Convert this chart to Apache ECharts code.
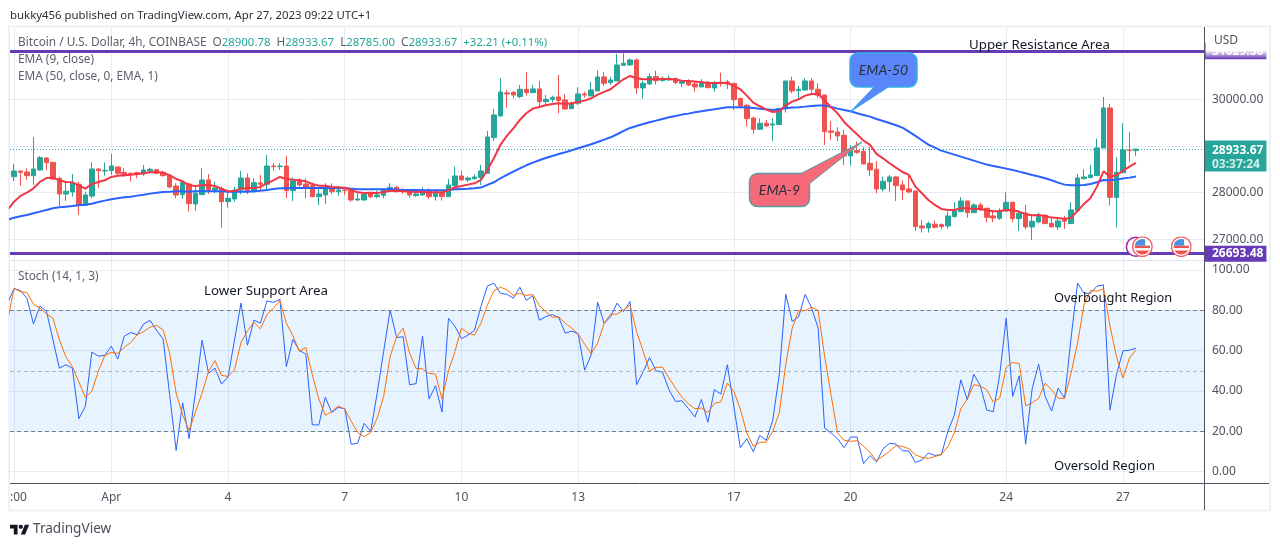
<!DOCTYPE html>
<html>
<head>
<meta charset="utf-8">
<title>BTCUSD 4h</title>
<style>
html, body { margin: 0; padding: 0; background: #fff; }
#main { width: 1280px; height: 546px; }
</style>
<script src="https://cdn.jsdelivr.net/npm/echarts@6/dist/echarts.min.js"></script>
</head>
<body>
<div id="main"></div>
<script>
// x axis is the bar number, 0 = first visible 4h candle
var tickBars = [0, 15, 33, 51, 69, 87, 111, 129, 153, 171];
var tickLabels = [':00', 'Apr', '4', '7', '10', '13', '17', '20', '24', '27'];

var open = [28343,28464,28443,28364,28486,28743,28650,28307,27971,28014,28179,27729,27928,28507,28464,28471,28550,28436,28414,28429,28400,28464,28493,28436,28379,28143,27957,28186,27757,27957,28272,28057,28093,27807,27864,28057,28314,28021,28207,28179,28571,28557,28571,28043,28257,28186,28150,27914,27950,28114,28021,28057,28043,27843,27843,27971,27914,27943,28043,28114,28057,28043,27936,27950,28043,
27915,28001,27915,28151,28358,28272,28301,28322,28415,29179,29643,30136,30150,30058,30215,30143,30222,29950,30000,30050,29986,29800,29915,30115,30072,30179,30479,30358,30393,30729,30736,30843,30243,30329,30486,30400,30415,30443,30343,30393,30329,30265,30365,30243,30365,30372,30343,30015,29872,29600,29358,29486,29450,29458,29800,30393,30186,30200,30393,30215,30093,29322,29300,29229,28786,28901,28886,28629,28501,28079,28236,28336,28165,28079,28036,27286,27244,27322,27315,27286,27486,27594,27822,27572,27737,27665,27501,27451,27608,27794,27444,27565,27265,27372,27515,27344,27265,27415,27337,27615,28301,28322,28365,28958,29815,27894,28429,28915,28900.78];
var close = [28464,28436,28364,28507,28750,28643,28293,27971,28029,28214,27736,27950,28507,28471,28478,28571,28414,28364,28400,28386,28486,28500,28414,28364,28121,27950,28214,27764,27986,28272,28057,28100,27807,27879,28057,28314,28043,28214,28179,28571,28557,28571,28043,28257,28164,28114,27914,27971,28107,28021,28057,28043,27843,27864,27971,27914,27950,28057,28114,28021,28029,27950,27971,28057,27914,
27986,27915,28165,28358,28272,28315,28336,28465,29193,29665,30158,30115,30093,30215,30143,30222,29950,30000,30043,29972,29793,29915,30115,30093,30200,30479,30343,30415,30736,30772,30843,30243,30343,30486,30400,30450,30450,30358,30379,30308,30265,30343,30250,30343,30343,30329,29993,29858,29586,29358,29486,29429,29472,29800,30393,30179,30215,30393,30215,30086,29308,29293,29215,28786,28901,28865,28615,28486,28079,28244,28336,28151,28058,28015,27272,27244,27337,27258,27272,27501,27608,27822,27572,27737,27629,27472,27458,27608,27794,27444,27558,27265,27386,27487,27337,27265,27394,27387,27629,28315,28336,28379,28958,29815,27901,28436,28915,28900.78,28933.67];
var low = [28250,28150,28272,28164,28471,28486,28272,27714,27821,27914,27521,27714,27879,28093,28364,28379,28357,28343,28236,28307,28364,28414,28400,28343,28093,27879,27864,27593,27614,27950,27971,27986,27250,27679,27807,27964,27971,28000,28057,28057,28471,28486,27879,27821,28129,27879,27900,27736,27757,27971,27929,27950,27807,27821,27829,27879,27879,27879,28021,28000,27971,27893,27914,27936,27864,
27829,27829,27915,28129,28258,28229,28272,28165,28415,29115,29629,29822,30022,30022,30079,30129,29843,29879,29936,29700,29772,29793,29879,30036,30072,30179,30286,30308,30393,30729,30722,30115,30015,30308,30315,30379,30400,30322,30258,30286,30165,30258,30236,30165,30272,30222,29772,29851,29415,29258,29343,29415,29108,29450,29715,30129,30022,30186,30129,30022,29022,29129,29108,28593,28579,28829,28608,28358,27986,28022,28022,27822,27843,27986,27179,27144,27144,27236,27215,27236,27472,27586,27465,27558,27608,27365,27365,27415,27594,27365,27179,27215,26987,27344,27329,27258,27201,27222,27329,27615,28272,28308,28358,28958,27722,27251,28415,28665,28785];
var high = [28614,28464,28522,29193,28786,28757,28650,28343,28236,28400,28236,28021,28650,28522,28643,28828,28557,28522,28429,28450,28593,28536,28500,28471,28400,28200,28236,28214,28164,28522,28400,28236,28129,28021,28129,28464,28414,28307,28379,28807,28643,28629,28786,28329,28307,28307,28214,28093,28200,28200,28143,28114,28093,28021,28000,28021,28043,28093,28200,28143,28093,28057,28043,28114,28093,
28058,28058,28294,28558,28465,28344,28393,28593,29322,29793,30450,30200,30179,30308,30586,30308,30393,30093,30079,30522,30108,29950,30258,30165,30379,30622,30579,30486,30972,30986,30879,30879,30400,30557,30615,30486,30508,30472,30400,30429,30379,30429,30393,30393,30572,30415,30343,30036,29900,29629,29593,29558,29593,29808,30393,30486,30286,30450,30450,30343,30093,29536,29400,29343,29022,29093,28972,28972,28679,28344,28379,28358,28258,28379,28036,27415,27379,27401,27344,27594,27794,27901,27822,27772,27786,27679,27629,27665,28008,27801,27594,27737,27522,27572,27536,27465,27472,27501,27794,28401,28501,28593,29158,30050,29900,28758,29486,29300,28933.67];

// the lines have one more value at the front: the bar just left of the pane
var ema9 = [27629,27807,27929,28000,28093,28229,28314,28321,28264,28229,28221,28157,28086,28186,28229,28264,28336,28364,28371,28386,28400,28414,28436,28443,28429,28371,28293,28243,28157,28143,28157,28164,28143,28079,28029,28036,28086,28100,28100,28121,28200,28264,28336,28293,28279,28264,28243,28186,28150,28150,28121,28114,28107,28057,28007,27993,28000,27993,28014,28036,28043,28029,28021,28014,28021,28000,
28015,28001,28051,28115,28143,28172,28201,28272,28486,28736,29022,29215,29379,29558,29700,29800,29836,29872,29900,29915,29900,29915,29943,29972,30022,30100,30158,30215,30329,30429,30500,30450,30429,30429,30429,30436,30436,30422,30400,30393,30379,30365,30350,30350,30350,30350,30286,30215,30079,29929,29851,29779,29729,29743,29872,29950,30000,30079,30115,30115,29972,29829,29700,29515,29379,29250,
29115,29022,28829,28736,28629,28536,28443,28379,28129,27986,27843,27737,27651,27629,27629,27665,27665,27651,27651,27622,27601,27608,27629,27622,27594,27536,27515,27522,27501,27465,27458,27437,27465,27608,27758,27886,28129,28458,28343,28372,28465,28558,28636];
var ema50 = [27415,27464,27493,27521,27557,27593,27629,27664,27686,27700,27714,27729,27743,27764,27800,27829,27857,27879,27900,27914,27936,27957,27979,28000,28014,28021,28029,28029,28021,28029,28029,28029,28029,28029,28021,28021,28021,28021,28029,28043,28057,28079,28093,28093,28100,28100,28100,28100,28100,28100,28100,28100,28100,28086,28071,28071,28071,28071,28071,28071,28064,28057,28057,28057,28050,28050,
28051,28051,28058,28072,28079,28086,28094,28108,28165,28222,28308,28379,28451,28522,28586,28643,28693,28743,28786,28829,28865,28908,28951,28993,29036,29086,29136,29186,29251,29322,29386,29429,29472,29508,29543,29579,29615,29643,29672,29693,29722,29743,29765,29786,29808,29829,29829,29829,29822,29815,29800,29786,29772,29786,29808,29822,29829,29843,29858,29865,29865,29836,29800,29772,29743,29700,
29665,29629,29579,29536,29493,29443,29393,29308,29215,29122,29029,28965,28901,28858,28815,28772,28729,28686,28643,28601,28572,28543,28515,28486,28451,28415,28379,28344,28308,28265,28215,28172,28158,28158,28165,28186,28222,28272,28265,28279,28301,28322,28344];
var stochK = [83.6,90.8,89.8,86.0,73.3,82.1,79.6,65.4,51.3,53.0,51.3,26.2,32.3,59.3,57.3,57.6,62.2,55.8,67.2,69.0,67.9,73.3,75.0,70.0,65.7,38.1,10.5,34.1,16.3,39.8,65.2,48.8,51.3,43.4,46.9,65.2,83.6,62.7,75.1,73.6,84.7,83.9,85.5,52.1,65.5,60.1,58.3,23.2,23.1,36.9,29.3,31.8,31.2,13.5,14.1,23.9,19.9,38.9,59.6,80.1,66.5,66.9,43.1,43.6,67.2,36.0,
42.6,29.5,76.1,72.1,65.9,67.7,70.0,81.9,92.1,93.5,88.5,88.0,86.0,91.5,85.0,87.2,75.1,76.9,77.9,76.4,68.7,69.7,68.3,50.3,57.9,84.0,73.5,76.9,83.6,79.4,84.4,43.1,49.3,56.6,50.0,49.3,40.6,34.8,35.1,31.2,27.0,35.8,24.5,40.7,38.4,53.0,32.3,11.8,16.3,9.8,17.9,15.5,25.4,48.0,88.0,74.5,76.8,88.0,81.1,71.2,21.6,19.1,16.3,11.8,17.1,17.1,
3.9,7.9,4.7,11.3,14.0,13.6,10.3,10.2,4.5,5.7,9.2,8.0,8.3,19.9,27.9,45.5,35.6,48.3,42.7,30.5,29.7,48.0,76.1,37.3,47.5,13.6,41.1,53.3,37.3,30.0,41.4,36.4,66.2,93.5,88.5,88.5,92.0,92.6,30.5,48.0,59.9,60.2,61.2];
var stochD = [74.5,90.8,89.3,88.8,83.1,81.1,78.3,76.1,65.5,56.9,52.1,44.4,36.8,39.8,49.7,57.6,59.1,58.6,61.6,64.0,67.9,69.5,71.7,72.5,70.3,58.8,38.9,28.2,20.4,29.8,38.9,49.7,55.0,47.7,47.2,50.5,64.0,69.8,74.1,70.8,77.8,81.1,84.9,73.6,67.5,59.6,61.6,48.0,36.1,27.9,29.8,32.5,31.0,24.9,19.4,17.3,19.4,26.5,37.3,57.1,66.7,71.2,58.8,51.2,51.0,48.7,
48.3,36.0,50.0,59.6,71.2,68.7,67.7,73.6,82.7,89.7,91.5,90.2,87.4,88.5,87.4,87.9,82.4,79.4,76.6,76.8,73.6,71.2,68.3,63.2,58.4,63.7,73.6,78.1,78.1,80.2,82.6,69.5,59.9,49.8,51.7,51.8,46.4,41.4,36.9,33.6,31.2,31.5,29.3,33.8,34.6,43.9,39.8,31.0,19.1,12.5,14.5,14.6,19.9,29.0,53.0,71.2,79.8,79.8,81.6,79.9,57.1,37.8,19.1,15.5,15.0,15.3,
12.5,9.5,5.4,7.7,10.0,12.8,12.5,11.3,8.3,7.0,6.5,7.4,8.5,12.3,19.1,31.2,36.0,43.1,42.4,40.6,34.5,36.4,51.7,54.1,53.6,32.6,34.1,36.3,43.9,40.6,36.4,36.3,48.8,63.7,82.7,90.0,89.5,90.7,72.3,57.1,46.4,56.3,60.4];

var resistance = 31029.5;
var support = 26693.48;
var lastPrice = 28933.67;
var priceGrid = [27000, 28000, 29000, 30000, 31000];
var priceLabels = [27000, 28000, 30000];
var stochTicks = [0, 20, 40, 60, 80, 100];
var earningsBars = [174, 180];
var earningsRingBars = [173];
var eventPrice = 26842;

var FONT = '"Noto Sans", sans-serif';
var SMALL_FONT = '11.4px "Noto Sans", sans-serif';
var LEGEND_FONT = '11.8px "Noto Sans", sans-serif';
var GRID_COLOR = '#e4edf3';
var AXIS_COLOR = '#50535e';
var TEXT_COLOR = '#50535e';
var UP = '#26a69a';
var DOWN = '#ef5350';
var PURPLE = '#673ab7';

var candles = open.map(function (o, i) { return [i, o, close[i], low[i], high[i]]; });
function linePoints(values) {
    return values.map(function (v, i) { return [i - 1, v]; });
}

var flagSvg = '<svg xmlns="http://www.w3.org/2000/svg" width="60" height="60" viewBox="0 0 60 60">' +
    '<clipPath id="c"><circle cx="30" cy="30" r="22"/></clipPath>' +
    '<circle cx="30" cy="30" r="28" fill="#fff" stroke="#f0616a" stroke-width="4"/>' +
    '<g clip-path="url(#c)"><rect width="60" height="60" fill="#fff"/>' +
    '<rect y="27" width="60" height="7" fill="#ef5350"/><rect y="41" width="60" height="14" fill="#ef5350"/>' +
    '<rect x="8" y="8" width="30" height="19" fill="#4d90e0"/></g></svg>';
var flagSymbol = 'image://data:image/svg+xml;charset=utf-8,' + encodeURIComponent(flagSvg);

var xAxisBase = {
    type: 'value',
    min: -0.617,
    max: 183.5,
    axisTick: { show: false, customValues: tickBars },
    splitLine: { show: true, lineStyle: { color: GRID_COLOR, width: 1 } }
};

function callout(box, tail, fill, stroke, text) {
    return [
        { type: 'rect', z: 20, shape: { x: box[0], y: box[1], width: box[2], height: box[3], r: 8 },
          style: { fill: fill, stroke: stroke, lineWidth: 1.5 } },
        { type: 'polygon', z: 21, shape: { points: tail }, style: { fill: fill } },
        { type: 'polyline', z: 22, shape: { points: tail }, style: { stroke: stroke, lineWidth: 1, fill: null } },
        { type: 'text', z: 23, x: box[0] + box[2] / 2, y: box[1] + box[3] / 2,
          style: { text: text, fill: '#2a2e39', font: 'italic 14px Lato, sans-serif', align: 'center', verticalAlign: 'middle' } }
    ];
}

function note(text, x, y, size) {
    return { type: 'text', z: 15, x: x, y: y,
        style: { text: text, fill: '#131722', font: size + 'px ' + FONT, verticalAlign: 'middle' } };
}

var graphics = [
    { type: 'rect', z: 0, silent: true, shape: { x: 9, y: 26.5, width: 1261, height: 484 },
      style: { fill: null, stroke: '#eef1f6', lineWidth: 2 } },
    { type: 'line', z: 9, shape: { x1: 1204.5, y1: 27, x2: 1204.5, y2: 510 }, style: { stroke: AXIS_COLOR, lineWidth: 1 } },
    { type: 'line', z: 9, shape: { x1: 10, y1: 483.5, x2: 1269, y2: 483.5 }, style: { stroke: AXIS_COLOR, lineWidth: 1 } },
    { type: 'line', z: 1, shape: { x1: 10, y1: 260.5, x2: 1269, y2: 260.5 }, style: { stroke: '#e0e3eb', lineWidth: 1 } },
    { type: 'text', z: 15, x: 10, y: 16,
      style: { text: 'bukky456 published on TradingView.com, Apr 27, 2023 09:22 UTC+1', fill: '#2a2e39', font: SMALL_FONT, verticalAlign: 'middle' } },
    { type: 'text', z: 15, x: 18, y: 43,
      style: {
          text: '{l|Bitcoin / U.S. Dollar, 4h, COINBASE  O}{v|28900.78}{l|  H}{v|28933.67}{l|  L}{v|28785.00}{l|  C}{v|28933.67}{v|  +32.21 (+0.11%)}',
          verticalAlign: 'middle',
          rich: {
              l: { fill: '#5d606b', font: LEGEND_FONT },
              v: { fill: UP, font: SMALL_FONT }
          }
      } },
    { type: 'text', z: 15, x: 18, y: 60, style: { text: 'EMA (9, close)', fill: '#5d606b', font: LEGEND_FONT, verticalAlign: 'middle' } },
    { type: 'text', z: 15, x: 18, y: 77, style: { text: 'EMA (50, close, 0, EMA, 1)', fill: '#5d606b', font: LEGEND_FONT, verticalAlign: 'middle' } },
    { type: 'text', z: 15, x: 18, y: 277, style: { text: 'Stoch (14, 1, 3)', fill: '#5d606b', font: LEGEND_FONT, verticalAlign: 'middle' } },
    note('Upper Resistance Area', 969, 45, 13.3),
    note('Lower Support Area', 204, 291, 13.3),
    note('Overbought Region', 1054, 298, 12.8),
    note('Oversold Region', 1054, 466, 13),
    // white fade that hides the upper half of the resistance price tag
    { type: 'rect', z: 30, shape: { x: 1205.5, y: 28, width: 62, height: 31 },
      style: { fill: { type: 'linear', x: 0, y: 0, x2: 0, y2: 1, colorStops: [
          { offset: 0, color: '#fff' }, { offset: 0.72, color: '#fff' }, { offset: 1, color: 'rgba(255,255,255,0)' } ] } } },
    { type: 'text', z: 31, x: 1214, y: 41, style: { text: 'USD', fill: TEXT_COLOR, font: '12px ' + FONT, verticalAlign: 'middle' } },
    // TradingView mark
    { type: 'group', z: 15, x: 10, y: 522.5, scaleX: 0.54, scaleY: 0.54, children: [
        { type: 'polygon', shape: { points: [[0, 4], [14, 4], [14, 22], [7, 22], [7, 11], [0, 11]] }, style: { fill: '#131722' } },
        { type: 'circle', shape: { cx: 20, cy: 8, r: 4 }, style: { fill: '#131722' } },
        { type: 'polygon', shape: { points: [[27.5, 4], [35.5, 4], [28, 22], [20, 22]] }, style: { fill: '#131722' } }
    ] },
    { type: 'text', z: 15, x: 33, y: 529, style: { text: 'TradingView', fill: '#4a4e59', font: '13.6px ' + FONT, verticalAlign: 'middle' } }
];
graphics = graphics
    .concat(callout([850, 53, 67, 34], [[875, 86], [850, 112], [890, 86]], '#5b86fb', '#35b0e8', 'EMA-50'))
    .concat(callout([749.5, 173.5, 60, 33], [[800, 174], [862, 142], [809, 184]], '#f76a7a', '#5b9aa0', 'EMA-9'));

var chartDom = document.getElementById('main');
var myChart = echarts.init(chartDom);

var option = {
    animation: false,
    backgroundColor: '#fff',
    textStyle: { fontFamily: FONT },
    grid: [
        { left: 10, width: 1194, top: 27, height: 233 },
        { left: 10, width: 1194, top: 261, height: 222 }
    ],
    xAxis: [
        Object.assign({}, xAxisBase, {
            gridIndex: 0,
            axisLine: { show: false },
            axisLabel: { show: false }
        }),
        Object.assign({}, xAxisBase, {
            gridIndex: 1,
            position: 'bottom',
            axisLine: { show: false },
            axisLabel: {
                customValues: tickBars,
                color: TEXT_COLOR,
                fontSize: 12,
                margin: 9,
                formatter: function (v) {
                    var label = tickLabels[tickBars.indexOf(v)];
                    return v === 0 ? '{lead|' + label + '}' : label;
                },
                rich: { lead: { padding: [0, 0, 0, 9], color: TEXT_COLOR, fontSize: 12 } }
            }
        })
    ],
    yAxis: [
        {
            type: 'value',
            gridIndex: 0,
            position: 'right',
            min: 26557,
            max: 31549,
            axisLine: { show: false },
            axisTick: { show: false, customValues: priceGrid },
            splitLine: { show: true, lineStyle: { color: GRID_COLOR } },
            axisLabel: {
                customValues: priceLabels,
                color: TEXT_COLOR,
                fontSize: 12,
                margin: 8,
                padding: [2, 0, 0, 0],
                formatter: function (v) { return v.toFixed(2); }
            }
        },
        {
            type: 'value',
            gridIndex: 1,
            position: 'right',
            min: -5.7,
            max: 104.5,
            axisLine: { show: false },
            axisTick: { show: false, customValues: stochTicks },
            splitLine: { show: true, lineStyle: { color: GRID_COLOR } },
            axisLabel: {
                customValues: stochTicks,
                color: TEXT_COLOR,
                fontSize: 12,
                margin: 8,
                padding: [2, 0, 0, 0],
                formatter: function (v) { return v.toFixed(2); }
            }
        }
    ],
    series: [
        {
            name: 'BTCUSD',
            type: 'candlestick',
            xAxisIndex: 0,
            yAxisIndex: 0,
            barWidth: 5,
            z: 3,
            itemStyle: { color: UP, color0: DOWN, borderColor: UP, borderColor0: DOWN, borderWidth: 1 },
            data: candles,
            markLine: {
                silent: true,
                symbol: 'none',
                animation: false,
                data: [
                    {
                        yAxis: lastPrice,
                        lineStyle: { color: UP, type: [1, 2], width: 1 },
                        label: {
                            position: 'end',
                            distance: 0,
                            offset: [0, 7],
                            formatter: '{a|28933.67}\n{b|03:37:24}',
                            backgroundColor: UP,
                            padding: [3, 3, 0, 8],
                            rich: {
                                a: { color: '#fff', fontSize: 12, fontWeight: 'bold', lineHeight: 14 },
                                b: { color: '#d4eeeb', fontSize: 12, fontWeight: 'bold', lineHeight: 14 }
                            }
                        }
                    },
                    {
                        yAxis: resistance,
                        lineStyle: { color: PURPLE, type: 'solid', width: 3 },
                        label: {
                            position: 'end',
                            distance: 0,
                            formatter: '31029.50',
                            color: '#fff',
                            fontSize: 12,
                            fontWeight: 'bold',
                            backgroundColor: PURPLE,
                            padding: [2, 3, 2, 8]
                        }
                    },
                    {
                        yAxis: support,
                        lineStyle: { color: PURPLE, type: 'solid', width: 3 },
                        label: {
                            position: 'end',
                            distance: 0,
                            formatter: '26693.48',
                            color: '#fff',
                            fontSize: 12,
                            fontWeight: 'bold',
                            backgroundColor: PURPLE,
                            padding: [2, 3, 2, 8]
                        }
                    }
                ]
            }
        },
        {
            name: 'EMA 50',
            type: 'line',
            xAxisIndex: 0,
            yAxisIndex: 0,
            symbol: 'none',
            z: 4,
            lineStyle: { color: '#2962ff', width: 2 },
            data: linePoints(ema50)
        },
        {
            name: 'EMA 9',
            type: 'line',
            xAxisIndex: 0,
            yAxisIndex: 0,
            symbol: 'none',
            z: 5,
            lineStyle: { color: '#f23645', width: 2 },
            data: linePoints(ema9)
        },
        {
            name: 'Event ring',
            type: 'scatter',
            xAxisIndex: 0,
            yAxisIndex: 0,
            symbol: 'circle',
            symbolSize: 19,
            z: 6,
            itemStyle: { color: '#fff', borderColor: '#9c27b0', borderWidth: 1.5, opacity: 1 },
            data: earningsRingBars.map(function (b) { return [b, eventPrice]; })
        },
        {
            name: 'Event',
            type: 'scatter',
            xAxisIndex: 0,
            yAxisIndex: 0,
            symbol: flagSymbol,
            symbolSize: 21,
            z: 7,
            itemStyle: { opacity: 1 },
            data: earningsBars.map(function (b) { return [b, eventPrice]; })
        },
        {
            name: '%K',
            type: 'line',
            xAxisIndex: 1,
            yAxisIndex: 1,
            symbol: 'none',
            z: 4,
            lineStyle: { color: '#2962ff', width: 1 },
            data: linePoints(stochK),
            markArea: {
                silent: true,
                itemStyle: { color: 'rgba(33,150,243,0.11)' },
                data: [[{ yAxis: 80 }, { yAxis: 20 }]]
            },
            markLine: {
                silent: true,
                symbol: 'none',
                animation: false,
                label: { show: false },
                data: [
                    { yAxis: 80, lineStyle: { color: '#787b86', type: [4, 3], width: 1 } },
                    { yAxis: 50, lineStyle: { color: '#b2b5be', type: [4, 3], width: 1 } },
                    { yAxis: 20, lineStyle: { color: '#787b86', type: [4, 3], width: 1 } }
                ]
            }
        },
        {
            name: '%D',
            type: 'line',
            xAxisIndex: 1,
            yAxisIndex: 1,
            symbol: 'none',
            z: 5,
            lineStyle: { color: '#ff6d00', width: 1 },
            data: linePoints(stochD)
        }
    ],
    graphic: graphics
};

myChart.setOption(option);

window.addEventListener('resize', function () {
    myChart.resize();
});
</script>
</body>
</html>
